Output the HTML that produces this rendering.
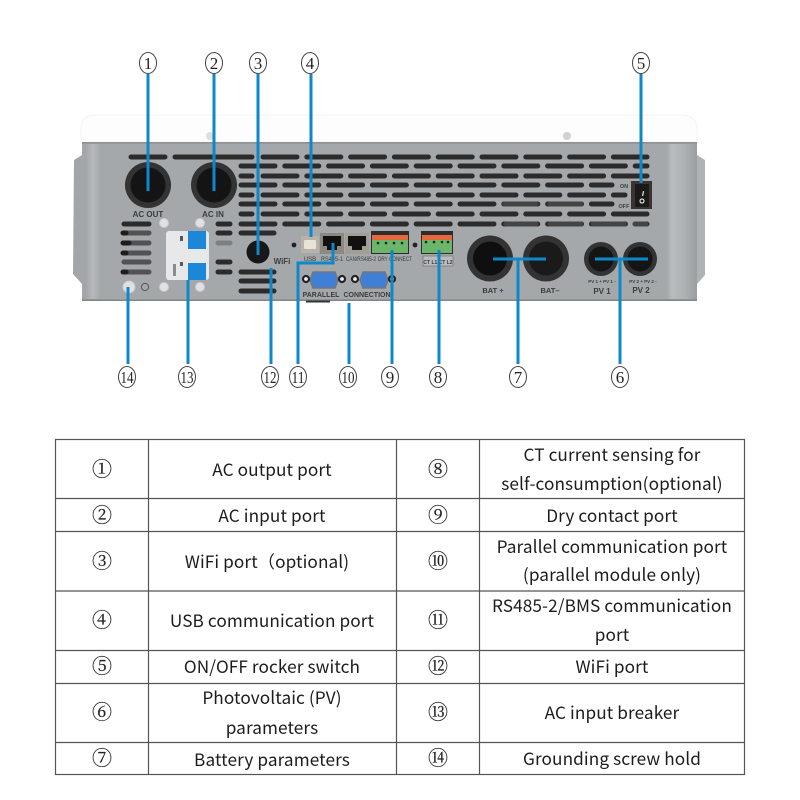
<!DOCTYPE html>
<html><head><meta charset="utf-8"><style>
html,body{margin:0;padding:0;background:#fff}
svg{display:block}
.t{font-family:"Noto Sans CJK SC","Liberation Sans",sans-serif;font-size:17.2px;letter-spacing:.1px;fill:#1c1c1c;text-anchor:middle}
.n{font-family:"Noto Serif CJK SC","Liberation Serif",serif;font-size:20px;fill:#222;stroke:#222;stroke-width:.2;text-anchor:middle}
.l{font-family:"Liberation Sans",sans-serif;font-weight:bold;fill:#3a3d3f;text-anchor:middle}
.s{font-family:"Liberation Sans",sans-serif;fill:#3a3d3f;text-anchor:middle}
.big{font-family:"Liberation Serif",serif;font-size:17px;fill:#222;text-anchor:middle}
</style></head><body>
<svg width="800" height="800" viewBox="0 0 800 800" xmlns="http://www.w3.org/2000/svg">
<defs>
<linearGradient id="lb" x1="0" x2="1" y1="0" y2="0"><stop offset="0" stop-color="#a0a3a5"/><stop offset=".5" stop-color="#b5b8ba"/><stop offset="1" stop-color="#a3a6a8"/></linearGradient>
<linearGradient id="rb" x1="0" x2="1" y1="0" y2="0"><stop offset="0" stop-color="#a3a6a8"/><stop offset=".2" stop-color="#b9bcbe"/><stop offset=".6" stop-color="#aeb1b3"/><stop offset="1" stop-color="#9b9ea0"/></linearGradient>
</defs>
<rect width="800" height="800" fill="#fff"/>
<!-- side brackets -->
<path d="M82 155 L74 160 L73 274 L82 284Z" fill="#a3a6a8"/>
<path d="M697 155 L705 160 L705 275 L697 284Z" fill="#afb2b4"/>
<!-- top -->
<path d="M81 143 V128 Q81 115 96 115 H682 Q697 115 697 130 V143Z" fill="#fdfdfd" stroke="#f3f3f3" stroke-width="1"/>
<circle cx="567" cy="136" r="4" fill="#cfd1d2"/>
<circle cx="210" cy="136" r="4" fill="#dcdedf"/>
<!-- body -->
<rect x="82" y="142" width="615" height="159" fill="#a5a8aa"/>
<rect x="82" y="142" width="615" height="1.6" fill="#8d9092"/>
<rect x="82" y="299.4" width="615" height="1.6" fill="#838688"/>
<rect x="84" y="144" width="18" height="155" fill="url(#lb)"/>
<rect x="666" y="144" width="31" height="155" fill="url(#rb)"/>
<rect x="306" y="300.5" width="24" height="2" fill="#333"/>
<!-- slots -->
<g stroke="#2b2b2c" stroke-width="5" stroke-linecap="round" fill="none">
<path d="M131 157H165M175 157H252" />
<path d="M241 176H252M241 195H252M241 214H252"/>
<path d="M263 157H647M263 176H647M263 195H625M263 214H647" stroke-dasharray="34 9.8"/>
<path d="M241 166H647M241 185H612M241 204H612M241 224H647" stroke-dasharray="34 9.8"/>
<path d="M241 233H274M241 272H274M241 281H274M241 291H274"/>
<path d="M124 224H149M218 224H230M218 233H230M218 262H230M218 272H230"/>
</g>
<g stroke-width="5" stroke-linecap="round" fill="none">
<path d="M124 233H149M124 243H149M124 253H149M124 262H149M124 272H149" stroke="#505254"/>
<path d="M123 243H129M123 233H126M123 253H126M123 272H126" stroke="#1d1d1d"/>
<path d="M218 243H230" stroke="#7d8082"/>
<path d="M506 224H536M550 224H581M593 224H624M635 224H646" stroke="#444"/>
<path d="M505 204H536M550 204H581" stroke="#444"/>
</g>
<!-- ports -->
<g>
<circle cx="148" cy="185" r="23" fill="#333"/><circle cx="148" cy="185" r="17.5" fill="#141414"/>
<circle cx="214" cy="185" r="23" fill="#333"/><circle cx="214" cy="185" r="17.5" fill="#141414"/>
<circle cx="258" cy="252" r="11.5" fill="#171717"/>
<circle cx="490" cy="258.5" r="23" fill="#333"/><circle cx="490" cy="258.5" r="17" fill="#0f0f0f"/>
<circle cx="546" cy="258.5" r="23" fill="#333"/><circle cx="546" cy="258.5" r="17" fill="#1a1a1a"/>
<circle cx="601" cy="259" r="17" fill="#333"/><circle cx="601" cy="259" r="12.5" fill="#151515"/>
<circle cx="640" cy="259" r="17" fill="#333"/><circle cx="640" cy="259" r="12.5" fill="#151515"/>
</g>
<text class="l" x="148" y="217" font-size="8">AC OUT</text>
<text class="l" x="213" y="217" font-size="8">AC IN</text>
<text class="l" x="282" y="264" font-size="8">WiFi</text>
<text class="l" x="493" y="293" font-size="7.5">BAT +</text>
<text class="l" x="550" y="293" font-size="7.5">BAT–</text>
<text class="l" x="602" y="294" font-size="8">PV 1</text>
<text class="l" x="641" y="293" font-size="8">PV 2</text>
<text class="l" x="602" y="283" font-size="4.5">PV 1 + PV 1 -</text>
<text class="l" x="643" y="283" font-size="4.5">PV 2 + PV 2 -</text>
<!-- switch -->
<rect x="631" y="181" width="21" height="28" fill="#3a3331"/>
<rect x="635" y="184" width="14" height="23" rx="1" fill="#1a1a1a"/>
<rect x="642.5" y="191" width="1.3" height="5" fill="#ddd" transform="rotate(12 643 193)"/>
<circle cx="642" cy="201" r="2" fill="none" stroke="#ddd" stroke-width="1.2"/>
<text class="l" x="624" y="188" font-size="5.5">ON</text>
<text class="l" x="624" y="208" font-size="5.5">OFF</text>
<!-- breaker -->
<rect x="166" y="231" width="43" height="49" rx="3" fill="#e6e8ea"/>
<rect x="188" y="231" width="18" height="18" fill="#1c86d8"/>
<rect x="188" y="263" width="18" height="17" fill="#1c86d8"/>
<rect x="180" y="236" width="3" height="5" fill="#555"/>
<rect x="180" y="262" width="3" height="4" fill="#555"/>
<rect x="173" y="264" width="3" height="12" fill="#8a8d90"/>
<g fill="#dfe1e3" stroke="#c8cacc" stroke-width="1">
<circle cx="164" cy="223" r="4.5"/><circle cx="200" cy="223" r="4.5"/>
<circle cx="164" cy="287" r="4.5"/><circle cx="200" cy="287" r="4.5"/>
<circle cx="129" cy="287" r="6"/>
</g>
<circle cx="145" cy="287" r="3.6" fill="none" stroke="#555" stroke-width="1"/>
<!-- connectors -->
<circle cx="294" cy="245" r="2.4" fill="#222"/>
<circle cx="415" cy="245" r="2.4" fill="#222"/>
<rect x="301" y="236" width="18" height="17" fill="#b9b2a6"/>
<rect x="304" y="240" width="12" height="9" rx="1" fill="#e8e3d8"/>
<rect x="320" y="233" width="24" height="21" fill="#8d8880"/>
<path d="M323 236H341V246H337V250H327V246H323Z" fill="#111"/>
<rect x="345" y="233" width="24" height="21" fill="#a39e94"/>
<path d="M348 236H366V246H362V250H352V246H348Z" fill="#111"/>
<rect x="371" y="231" width="38" height="23" fill="#2c2c2c"/>
<rect x="372" y="235" width="36" height="5" fill="#e5683d"/>
<rect x="372" y="240" width="36" height="13" fill="#6db56a"/>
<rect x="421" y="231" width="32" height="23" fill="#2c2c2c"/>
<rect x="422" y="235" width="30" height="5" fill="#e5683d"/>
<rect x="422" y="240" width="30" height="13" fill="#6db56a"/>
<g fill="#1b2a1b">
<circle cx="378" cy="243" r="1.3"/><circle cx="386" cy="243" r="1.3"/><circle cx="394" cy="243" r="1.3"/><circle cx="402" cy="243" r="1.3"/>
<circle cx="426" cy="242" r="1.3"/><circle cx="434" cy="242" r="1.3"/><circle cx="442" cy="242" r="1.3"/><circle cx="448" cy="242" r="1.3"/>
</g>
<rect x="423" y="256" width="30" height="10" fill="#b9bcbe" stroke="#666" stroke-width=".6"/>
<text class="s" x="438" y="264" font-size="5" font-weight="bold">CT L1 CT L2</text>
<text class="s" x="310" y="261" font-size="6">USB</text>
<text class="s" x="332" y="261" font-size="6" textLength="22" lengthAdjust="spacingAndGlyphs">RS485-1</text>
<text class="s" x="361" y="261" font-size="6" textLength="30" lengthAdjust="spacingAndGlyphs">CAN/RS485-2</text>
<text class="s" x="395" y="261" font-size="6" textLength="34" lengthAdjust="spacingAndGlyphs">DRY CONNECT</text>
<path d="M313 272H335L338 280L335 288H313L310 280Z" fill="#3f7fd6" stroke="#777" stroke-width="1.5"/>
<path d="M363 272H385L388 280L385 288H363L360 280Z" fill="#3f7fd6" stroke="#777" stroke-width="1.5"/>
<g fill="#eee" stroke="#222" stroke-width="2.2">
<circle cx="306" cy="279" r="3"/><circle cx="342" cy="279" r="3"/>
<circle cx="355" cy="279" r="3"/><circle cx="392" cy="279" r="3"/>
</g>
<text class="l" x="321" y="297" font-size="7">PARALLEL</text>
<text class="l" x="367" y="297" font-size="7">CONNECTION</text>
<!-- blue leader lines -->
<g stroke="#0e88cb" stroke-width="3" fill="none">
<path d="M148 74V191M214 74V191M258 74V255M311 74V237M641 74V183"/>
<path d="M595 259H648M620 259V364"/>
<path d="M493 259H546M518 259V364"/>
<path d="M439 250V364M392 250V364M349 303V364"/>
<path d="M333 243V263H298V364"/>
<path d="M271 268V364M188 280V364M128 287V364"/>
</g>
<!-- callouts -->
<g fill="#fff" stroke="#444" stroke-width="1">
<ellipse cx="148" cy="63" rx="8.5" ry="10.5"/><ellipse cx="214" cy="63" rx="8.5" ry="10.5"/><ellipse cx="258" cy="63" rx="8.5" ry="10.5"/><ellipse cx="310" cy="63" rx="8.5" ry="10.5"/><ellipse cx="641" cy="63" rx="8.5" ry="10.5"/>
<ellipse cx="127" cy="377" rx="8.5" ry="10.5"/><ellipse cx="187" cy="377" rx="8.5" ry="10.5"/><ellipse cx="270" cy="377" rx="8.5" ry="10.5"/><ellipse cx="298" cy="377" rx="8.5" ry="10.5"/><ellipse cx="348" cy="377" rx="8.5" ry="10.5"/><ellipse cx="390" cy="377" rx="8.5" ry="10.5"/><ellipse cx="438" cy="377" rx="8.5" ry="10.5"/><ellipse cx="518" cy="377" rx="8.5" ry="10.5"/><ellipse cx="620" cy="377" rx="8.5" ry="10.5"/>
</g>
<g>
<text class="big" x="148" y="69">1</text><text class="big" x="214" y="69">2</text><text class="big" x="258" y="69">3</text><text class="big" x="310" y="69">4</text><text class="big" x="641" y="69">5</text>
<text class="big" x="127" y="383" textLength="13" lengthAdjust="spacingAndGlyphs">14</text><text class="big" x="187" y="383" textLength="13" lengthAdjust="spacingAndGlyphs">13</text><text class="big" x="270" y="383" textLength="13" lengthAdjust="spacingAndGlyphs">12</text><text class="big" x="298" y="383" textLength="13" lengthAdjust="spacingAndGlyphs">11</text><text class="big" x="348" y="383" textLength="13" lengthAdjust="spacingAndGlyphs">10</text><text class="big" x="390" y="383">9</text><text class="big" x="438" y="383">8</text><text class="big" x="518" y="383">7</text><text class="big" x="620" y="383">6</text>
</g>
<!-- table -->
<g stroke="#555" stroke-width="1.2" fill="none">
<rect x="55.5" y="439.5" width="689" height="335"/>
<path d="M148.5 439V775M396.5 439V775M479.5 439V775"/>
<path d="M55 498.5H745M55 531.5H745M55 591H745M55 650.5H745M55 683.5H745M55 742.5H745"/>
</g>
<g>
<text class="n" x="102" y="476">①</text><text class="n" x="102" y="522">②</text><text class="n" x="102" y="568">③</text><text class="n" x="102" y="627">④</text><text class="n" x="102" y="673">⑤</text><text class="n" x="102" y="719">⑥</text><text class="n" x="102" y="765">⑦</text>
<text class="n" x="438" y="476">⑧</text><text class="n" x="438" y="522">⑨</text><text class="n" x="438" y="568">⑩</text><text class="n" x="438" y="627">⑪</text><text class="n" x="438" y="673">⑫</text><text class="n" x="438" y="719">⑬</text><text class="n" x="438" y="765">⑭</text>
</g>
<text class="t" x="272" y="476">AC output port</text>
<text class="t" x="272" y="522">AC input port</text>
<text class="t" x="267" y="568">WiFi port（optional)</text>
<text class="t" x="272" y="627">USB communication port</text>
<text class="t" x="272" y="673">ON/OFF rocker switch</text>
<text class="t" x="272" y="704">Photovoltaic (PV)</text>
<text class="t" x="272" y="734">parameters</text>
<text class="t" x="272" y="766">Battery parameters</text>
<text class="t" x="612" y="461">CT current sensing for</text>
<text class="t" x="612" y="490">self-consumption(optional)</text>
<text class="t" x="612" y="522">Dry contact port</text>
<text class="t" x="612" y="553">Parallel communication port</text>
<text class="t" x="612" y="581">(parallel module only)</text>
<text class="t" x="612" y="612">RS485-2/BMS communication</text>
<text class="t" x="612" y="641">port</text>
<text class="t" x="612" y="673">WiFi port</text>
<text class="t" x="612" y="719">AC input breaker</text>
<text class="t" x="612" y="765">Grounding screw hold</text>
</svg>
</body></html>
